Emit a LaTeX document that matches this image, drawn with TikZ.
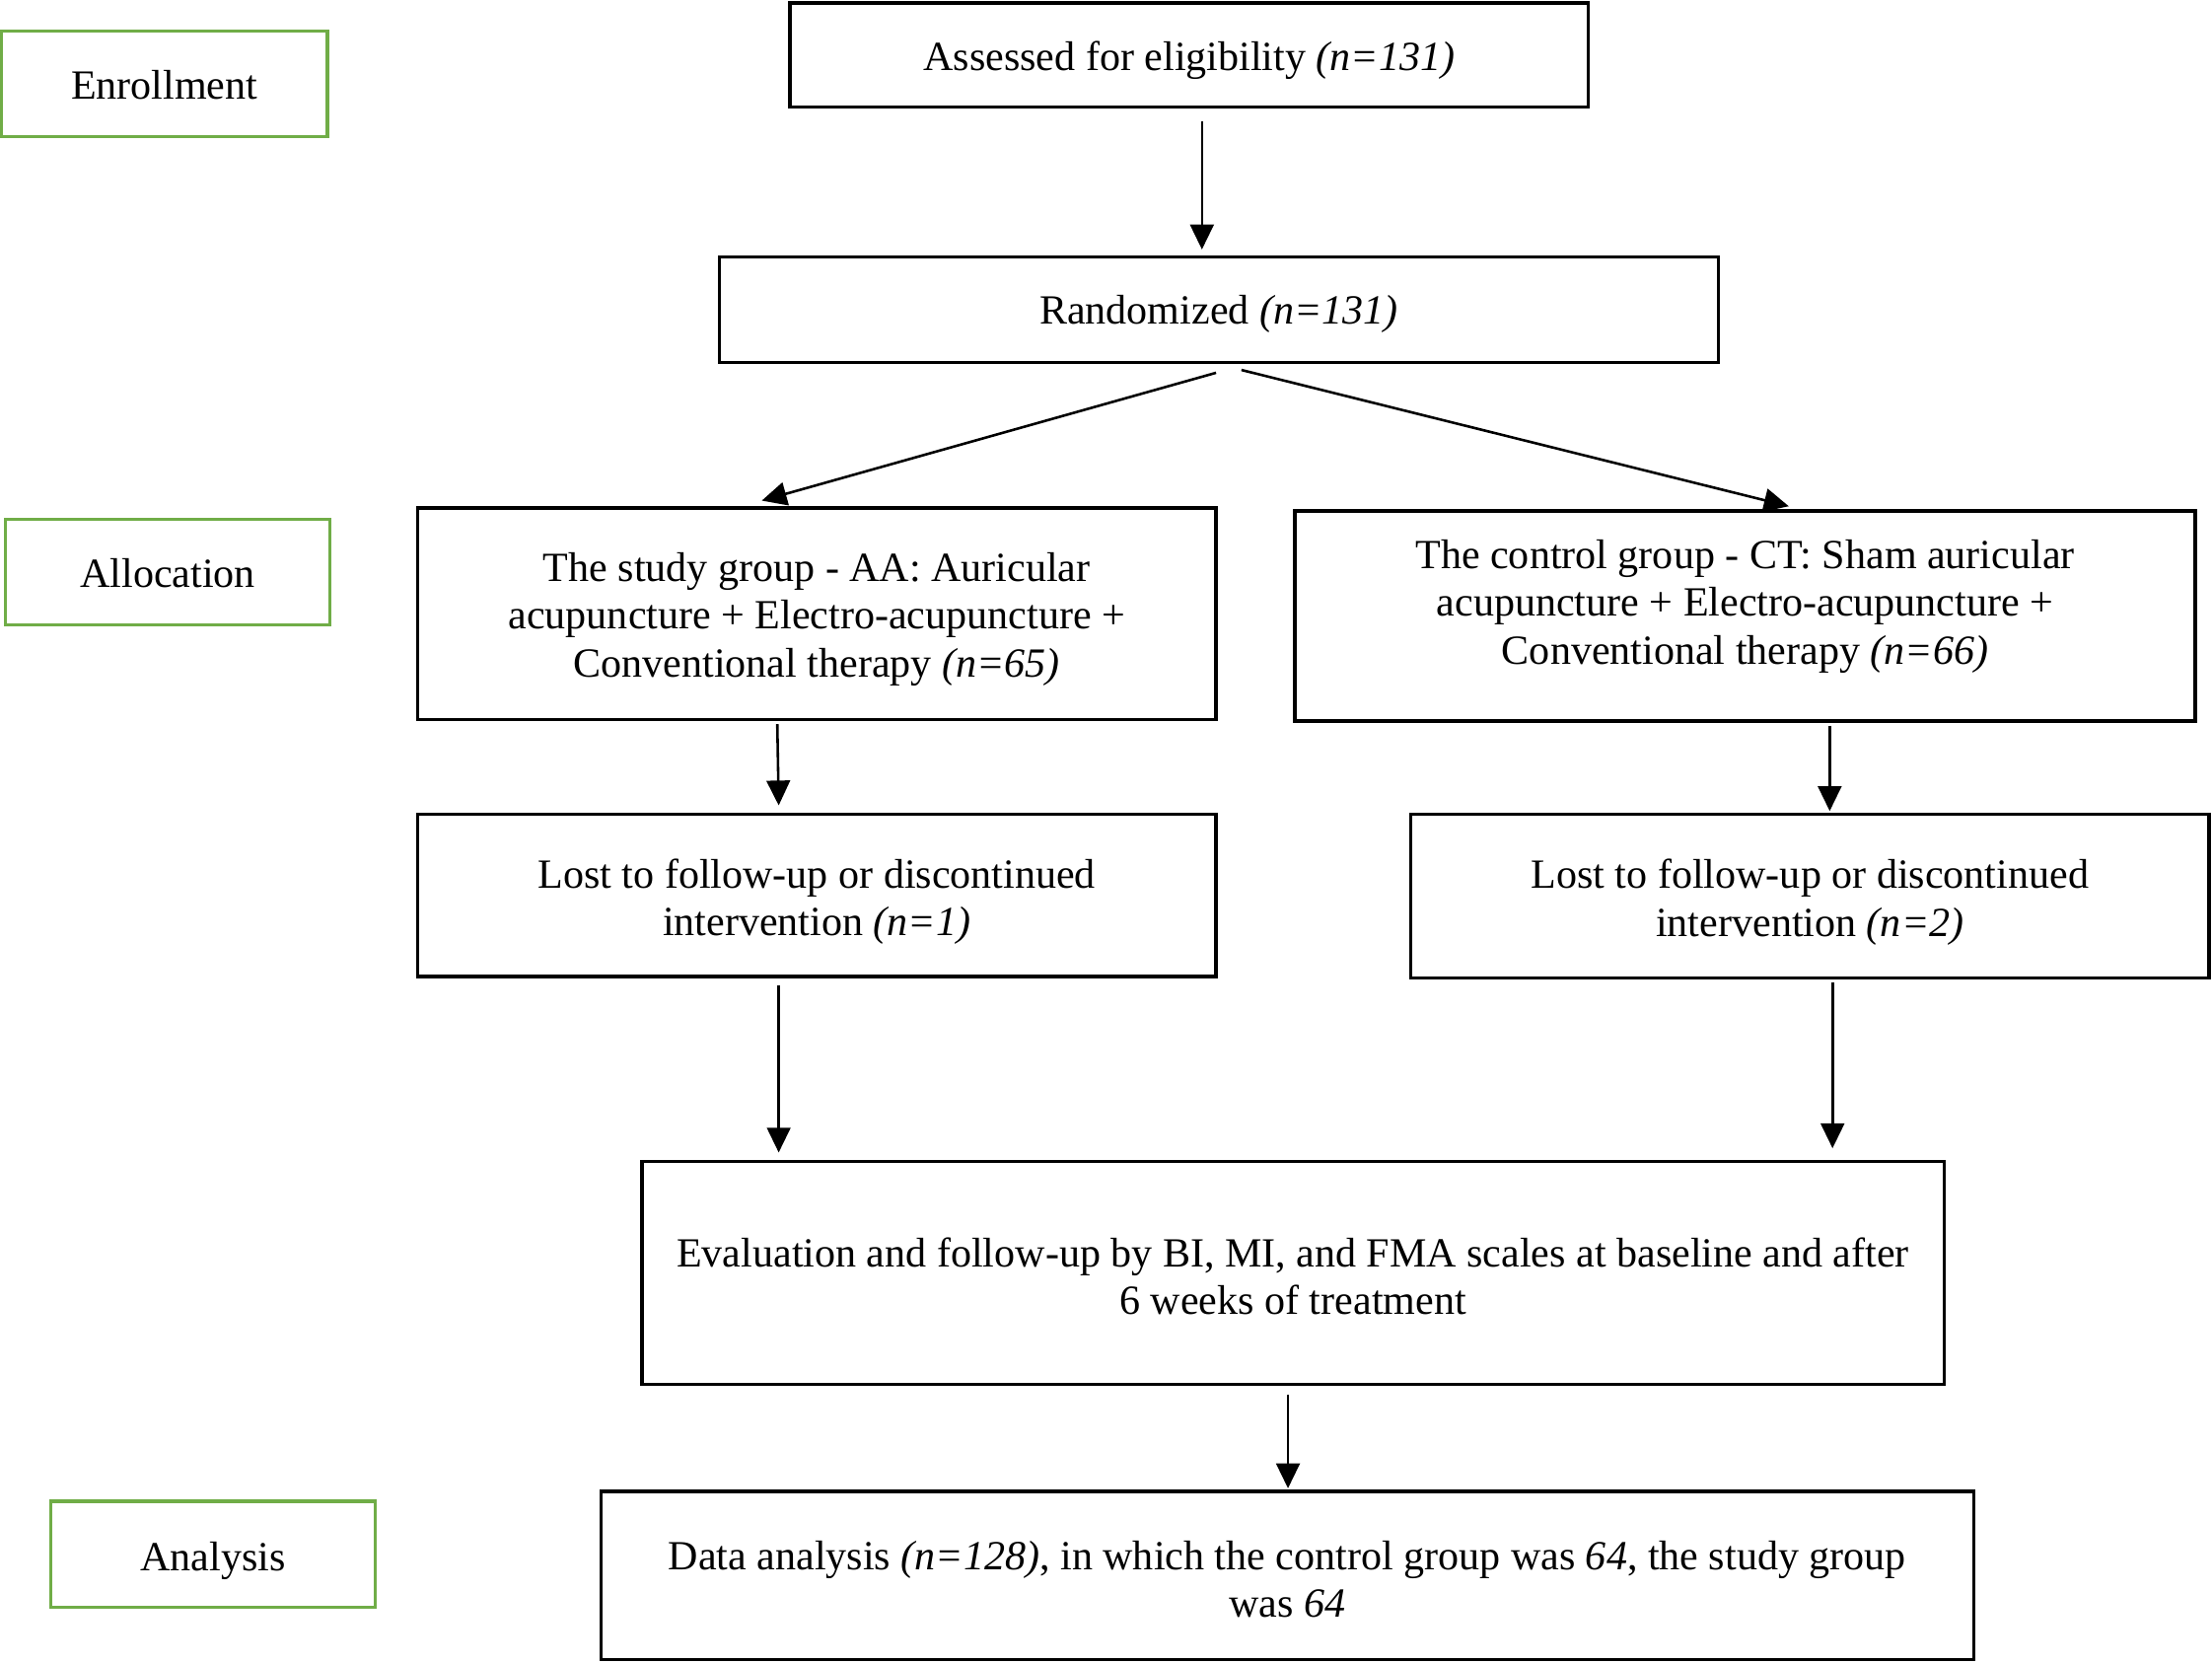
\documentclass[tikz,border=0pt]{standalone}
\usepackage{fontspec}
\setmainfont{Liberation Serif}
\usetikzlibrary{arrows.meta,calc}
\definecolor{stagegreen}{RGB}{112,173,71}
\newcommand{\boxtext}[2]{\raisebox{-#1pt}[\height][\depth]{\begin{tabular}{@{}c@{}}#2\end{tabular}}}
\begin{document}
\begin{tikzpicture}[x=0.5pt,y=-0.5pt,
  box/.style={draw=black,line width=1.2pt,rectangle,inner sep=0pt,align=center,
     font=\fontsize{14.7pt}{17pt}\selectfont},
  stage/.style={box,draw=stagegreen},
  arr/.style={line width=0.9pt,-{Triangle[length=8.8pt,width=8.3pt]}}]
\useasboundingbox (0,0) rectangle (1568,1179);
\node[stage,minimum width=115.5pt,minimum height=37.5pt] (enroll) at (116.5,59.5) {\boxtext{2}{Enrollment}};
\node[stage,minimum width=115pt,minimum height=37.5pt] (alloc) at (119,405.5) {\boxtext{2}{Allocation}};
\node[stage,minimum width=115pt,minimum height=37.5pt] (anal) at (151,1101.5) {\boxtext{2.5}{Analysis}};
\node[box,minimum width=283pt,minimum height=37pt] (assess) at (843,39) {\boxtext{2}{Assessed for eligibility \textit{(n=131)}}};
\node[box,minimum width=354pt,minimum height=37.5pt] (rand) at (864,219.5) {\boxtext{1.5}{Randomized \textit{(n=131)}}};
\node[box,minimum width=283pt,minimum height=75pt] (study) at (579,435) {\boxtext{2}{The study group - AA: Auricular\\acupuncture + Electro-acupuncture +\\Conventional therapy \textit{(n=65)}}};
\node[box,minimum width=319pt,minimum height=74.5pt] (control) at (1237,436.5) {\boxtext{-3.3}{The control group - CT: Sham auricular\\acupuncture + Electro-acupuncture +\\Conventional therapy \textit{(n=66)}}};
\node[box,minimum width=283pt,minimum height=57.5pt] (lost1) at (579,634.5) {\boxtext{2.5}{Lost to follow-up or discontinued\\intervention \textit{(n=1)}}};
\node[box,minimum width=283pt,minimum height=58pt] (lost2) at (1283,635) {\boxtext{2.5}{Lost to follow-up or discontinued\\intervention \textit{(n=2)}}};
\node[box,minimum width=461.5pt,minimum height=79pt] (eval) at (916.5,902) {\boxtext{3}{Evaluation and follow-up by BI, MI, and FMA scales at baseline and after\\6 weeks of treatment}};
\node[box,minimum width=486.5pt,minimum height=59.5pt] (data) at (912.5,1116.5) {\boxtext{3}{Data analysis \textit{(n=128)}, in which the control group was \textit{64}, the study group\\was \textit{64}}};
\draw[arr] ($(assess.south)+(9,9)$) -- ($(rand.north)+(-12,-4)$);
\draw[arr] ($(rand.south)+(-2,6)$) -- ($(study.north)+(-39,-4)$);
\draw[arr] ($(rand.south)+(16,4)$) -- ($(control.north)+(31,-2)$);
\draw[arr] ($(study.south)+(-28,2)$) -- ($(lost1.north)+(-27,-5)$);
\draw[arr] ($(control.south)+(60,2)$) -- ($(lost2.north)+(14,-1)$);
\draw[arr] ($(lost1.south)+(-27,5)$) -- ($(eval.north)+(-364.5,-5)$);
\draw[arr] ($(lost2.south)+(16,2)$) -- ($(eval.north)+(382.5,-8)$);
\draw[arr] ($(eval.south)+(-3.5,6)$) -- ($(data.north)+(0.5,-1)$);
\end{tikzpicture}
\end{document}
